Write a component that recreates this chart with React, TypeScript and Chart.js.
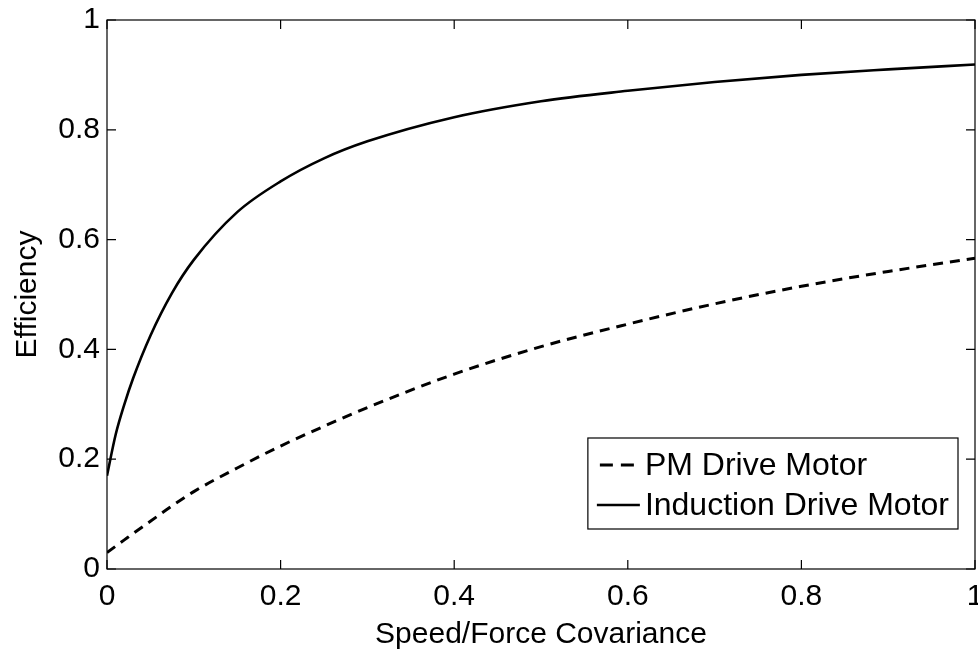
import React, { useEffect, useRef } from "react";
import { Chart, registerables } from "chart.js";

Chart.register(...registerables);

const xValues = [0, 0.01, 0.02, 0.03, 0.05, 0.075, 0.1, 0.15, 0.2, 0.25, 0.3, 0.4, 0.5, 0.6, 0.7, 0.8, 0.9, 1.0];
const pmEfficiency = [0.03, 0.0415, 0.053, 0.0645, 0.087, 0.115, 0.141, 0.184, 0.224, 0.26, 0.294, 0.355, 0.405, 0.446, 0.483, 0.515, 0.542, 0.566];
const inductionEfficiency = [0.17, 0.245, 0.3, 0.347, 0.425, 0.503, 0.563, 0.65, 0.706, 0.748, 0.779, 0.823, 0.852, 0.871, 0.887, 0.9, 0.91, 0.919];
const seriesLabels = ["PM Drive Motor", "Induction Drive Motor"];
const xTitle = "Speed/Force Covariance";
const yTitle = "Efficiency";
const tickValues = [0, 0.2, 0.4, 0.6, 0.8, 1];

const FONT = "'Liberation Sans', Arial, Helvetica, sans-serif";

const fmt = (v: number) => (v === 0 ? "0" : v === 1 ? "1" : v.toFixed(1));

const boxPlugin = {
  id: "matlabBox",
  afterDraw(chart: any) {
    const { ctx, chartArea } = chart;
    const { left, right, top, bottom } = chartArea;
    const xs = chart.scales.x;
    const ys = chart.scales.y;
    const tl = 9;
    ctx.save();
    ctx.strokeStyle = "#000";
    ctx.lineWidth = 1.2;
    ctx.setLineDash([]);
    ctx.strokeRect(left, top, right - left, bottom - top);
    ctx.beginPath();
    tickValues.forEach((v) => {
      const px = xs.getPixelForValue(v);
      ctx.moveTo(px, bottom);
      ctx.lineTo(px, bottom - tl);
      ctx.moveTo(px, top);
      ctx.lineTo(px, top + tl);
      const py = ys.getPixelForValue(v);
      ctx.moveTo(left, py);
      ctx.lineTo(left + tl, py);
      ctx.moveTo(right, py);
      ctx.lineTo(right - tl, py);
    });
    ctx.stroke();

    // legend
    const fontSize = 32;
    ctx.font = `${fontSize}px ${FONT}`;
    const labels = chart.data.datasets.map((d: any) => d.label);
    const maxW = Math.max(...labels.map((l: string) => ctx.measureText(l).width));
    const padL = 9;
    const sample = 43;
    const gap = 5;
    const padR = 9;
    const rowH = 40;
    const boxW = padL + sample + gap + maxW + padR;
    const boxH = 91;
    const bx = right - 17 - boxW;
    const by = bottom - 40 - boxH;
    ctx.fillStyle = "#fff";
    ctx.fillRect(bx, by, boxW, boxH);
    ctx.lineWidth = 1.2;
    ctx.strokeRect(bx, by, boxW, boxH);
    chart.data.datasets.forEach((d: any, i: number) => {
      const cy = by + 27 + i * rowH;
      ctx.beginPath();
      ctx.lineWidth = d.borderWidth;
      if (d.borderDash && d.borderDash.length) {
        ctx.setLineDash([13, 8]);
        ctx.moveTo(bx + padL + 3, cy);
        ctx.lineTo(bx + padL + 3 + 35, cy);
      } else {
        ctx.setLineDash([]);
        ctx.moveTo(bx + padL, cy);
        ctx.lineTo(bx + padL + sample, cy);
      }
      ctx.stroke();
      ctx.setLineDash([]);
      ctx.fillStyle = "#000";
      ctx.textBaseline = "middle";
      ctx.textAlign = "left";
      ctx.fillText(d.label, bx + padL + sample + gap, cy + 1);
    });
    ctx.restore();
  },
};

export default function App() {
  const ref = useRef<HTMLCanvasElement>(null);
  useEffect(() => {
    if (!ref.current) return;
    const chart = new Chart(ref.current, {
      type: "line",
      data: {
        datasets: [
          {
            label: seriesLabels[0],
            data: xValues.map((x, i) => ({ x, y: pmEfficiency[i] })),
            borderColor: "#000",
            borderWidth: 3,
            borderDash: [10, 7],
            pointRadius: 0,
            fill: false,
            cubicInterpolationMode: "monotone",
          },
          {
            label: seriesLabels[1],
            data: xValues.map((x, i) => ({ x, y: inductionEfficiency[i] })),
            borderColor: "#000",
            borderWidth: 2.6,
            pointRadius: 0,
            fill: false,
            cubicInterpolationMode: "monotone",
          },
        ],
      },
      options: {
        responsive: false,
        animation: false,
        layout: { padding: { left: 10, right: 3, top: 20, bottom: 0 } },
        plugins: { legend: { display: false }, tooltip: { enabled: false } },
        scales: {
          x: {
            type: "linear",
            min: 0,
            max: 1,
            afterBuildTicks: (s: any) => {
              s.ticks = tickValues.map((v) => ({ value: v }));
            },
            afterFit: (s: any) => {
              s.height = 86;
              s.paddingLeft = 0;
              s.paddingRight = 0;
            },
            grid: { display: false, drawTicks: false },
            border: { display: false },
            ticks: {
              color: "#000",
              padding: 10,
              maxRotation: 0,
              autoSkip: false,
              font: { family: FONT, size: 30 },
              callback: (v: any) => fmt(Number(v)),
            },
            title: {
              display: true,
              text: xTitle,
              color: "#000",
              font: { family: FONT, size: 30 },
              padding: { top: 0, bottom: 2 },
            },
          },
          y: {
            type: "linear",
            min: 0,
            max: 1,
            afterBuildTicks: (s: any) => {
              s.ticks = tickValues.map((v) => ({ value: v }));
            },
            afterFit: (s: any) => {
              s.width = 97;
              s.paddingTop = 0;
              s.paddingBottom = 0;
            },
            grid: { display: false, drawTicks: false },
            border: { display: false },
            ticks: {
              color: "#000",
              padding: 7,
              autoSkip: false,
              font: { family: FONT, size: 30 },
              callback: (v: any) => fmt(Number(v)),
            },
            title: {
              display: true,
              text: yTitle,
              color: "#000",
              font: { family: FONT, size: 30 },
              padding: { top: 0, bottom: 0 },
            },
          },
        },
      },
      plugins: [boxPlugin],
    });
    return () => chart.destroy();
  }, []);
  return (
    <div style={{ position: "absolute", left: 0, top: 0, width: 978, height: 655, background: "#fff" }}>
      <canvas ref={ref} width={978} height={655} />
    </div>
  );
}
